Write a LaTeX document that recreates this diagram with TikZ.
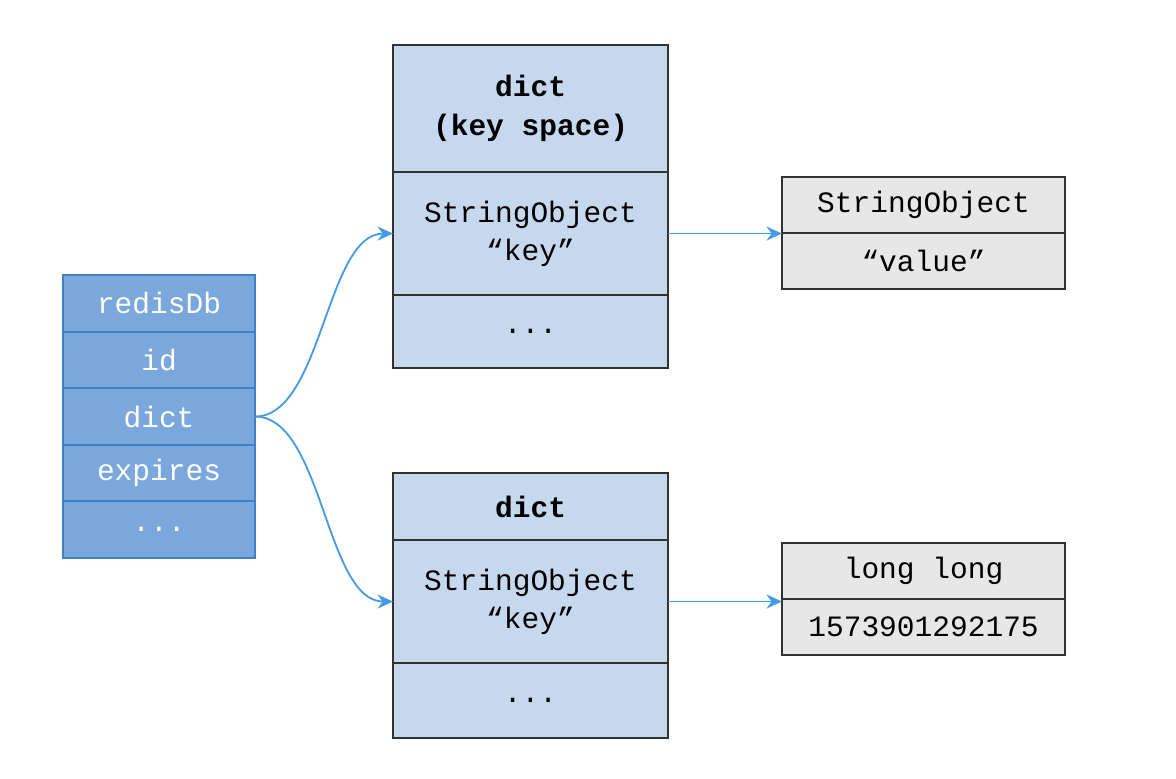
\documentclass[tikz,border=0pt]{standalone}
\usepackage{fontspec}
\setmonofont{Liberation Mono}
\usetikzlibrary{positioning,arrows.meta}
\definecolor{dbfill}{RGB}{122,168,221}
\definecolor{dbline}{RGB}{64,128,196}
\definecolor{dictfill}{RGB}{198,216,238}
\definecolor{valfill}{RGB}{231,231,231}
\definecolor{cellline}{RGB}{50,50,50}
\definecolor{linkblue}{RGB}{70,155,225}

\begin{document}
\begin{tikzpicture}[x=0.025cm,y=-0.025cm,
    cell/.style={draw=cellline,line width=1.4pt,fill=dictfill,minimum width=6.875cm,
      inner sep=0pt,outer sep=0pt,align=center,font=\ttfamily\fontsize{21}{27}\selectfont},
    title/.style={cell,font=\ttfamily\bfseries\fontsize{21}{28}\selectfont},
    dbcell/.style={cell,draw=dbline,fill=dbfill,text=white,minimum width=4.8cm,minimum height=1.415cm},
    valcell/.style={cell,fill=valfill,minimum width=7.075cm,minimum height=1.4cm},
    link/.style={draw=linkblue,line width=1.3pt,-{Stealth[length=11pt,width=10pt]}}]
    \useasboundingbox (0,0) rectangle (1176,778);
    % redisDb
    \node[dbcell,anchor=north west] (db0) at (63,275) {redisDb};
    \node[dbcell,below=0pt of db0] (db1) {id};
    \node[dbcell,below=0pt of db1] (db2) {dict};
    \node[dbcell,below=0pt of db2] (db3) {expires};
    \node[dbcell,below=0pt of db3] (db4) {...};
    % dict (key space)
    \node[title,anchor=north west,minimum height=3.175cm] (ks0) at (393,45) {dict\\(key space)};
    \node[cell,below=0pt of ks0,minimum height=3.075cm] (ks1) {StringObject\\“key”};
    \node[cell,below=0pt of ks1,minimum height=1.825cm] (ks2) {...};
    % dict (expires)
    \node[title,anchor=north west,minimum height=1.675cm] (ex0) at (393,473) {dict};
    \node[cell,below=0pt of ex0,minimum height=3.075cm] (ex1) {StringObject\\“key”};
    \node[cell,below=0pt of ex1,minimum height=1.875cm] (ex2) {...};
    % values
    \node[valcell,anchor=north west] (sv0) at (782,177) {StringObject};
    \node[valcell,below=0pt of sv0] (sv1) {“value”};
    \node[valcell,anchor=north west] (lv0) at (782,543) {long long};
    \node[valcell,below=0pt of lv0] (lv1) {1573901292175};
      \draw[link] (db2.east) to[out=0,in=180,looseness=0.75] (ks1.west);
      \draw[link] (db2.east) to[out=0,in=180,looseness=0.75] (ex1.west);
      \draw[link] (ks1.east) -- (ks1.east -| sv0.west);
      \draw[link] (ex1.east) -- (ex1.east -| lv0.west);
  \end{tikzpicture}
\end{document}
